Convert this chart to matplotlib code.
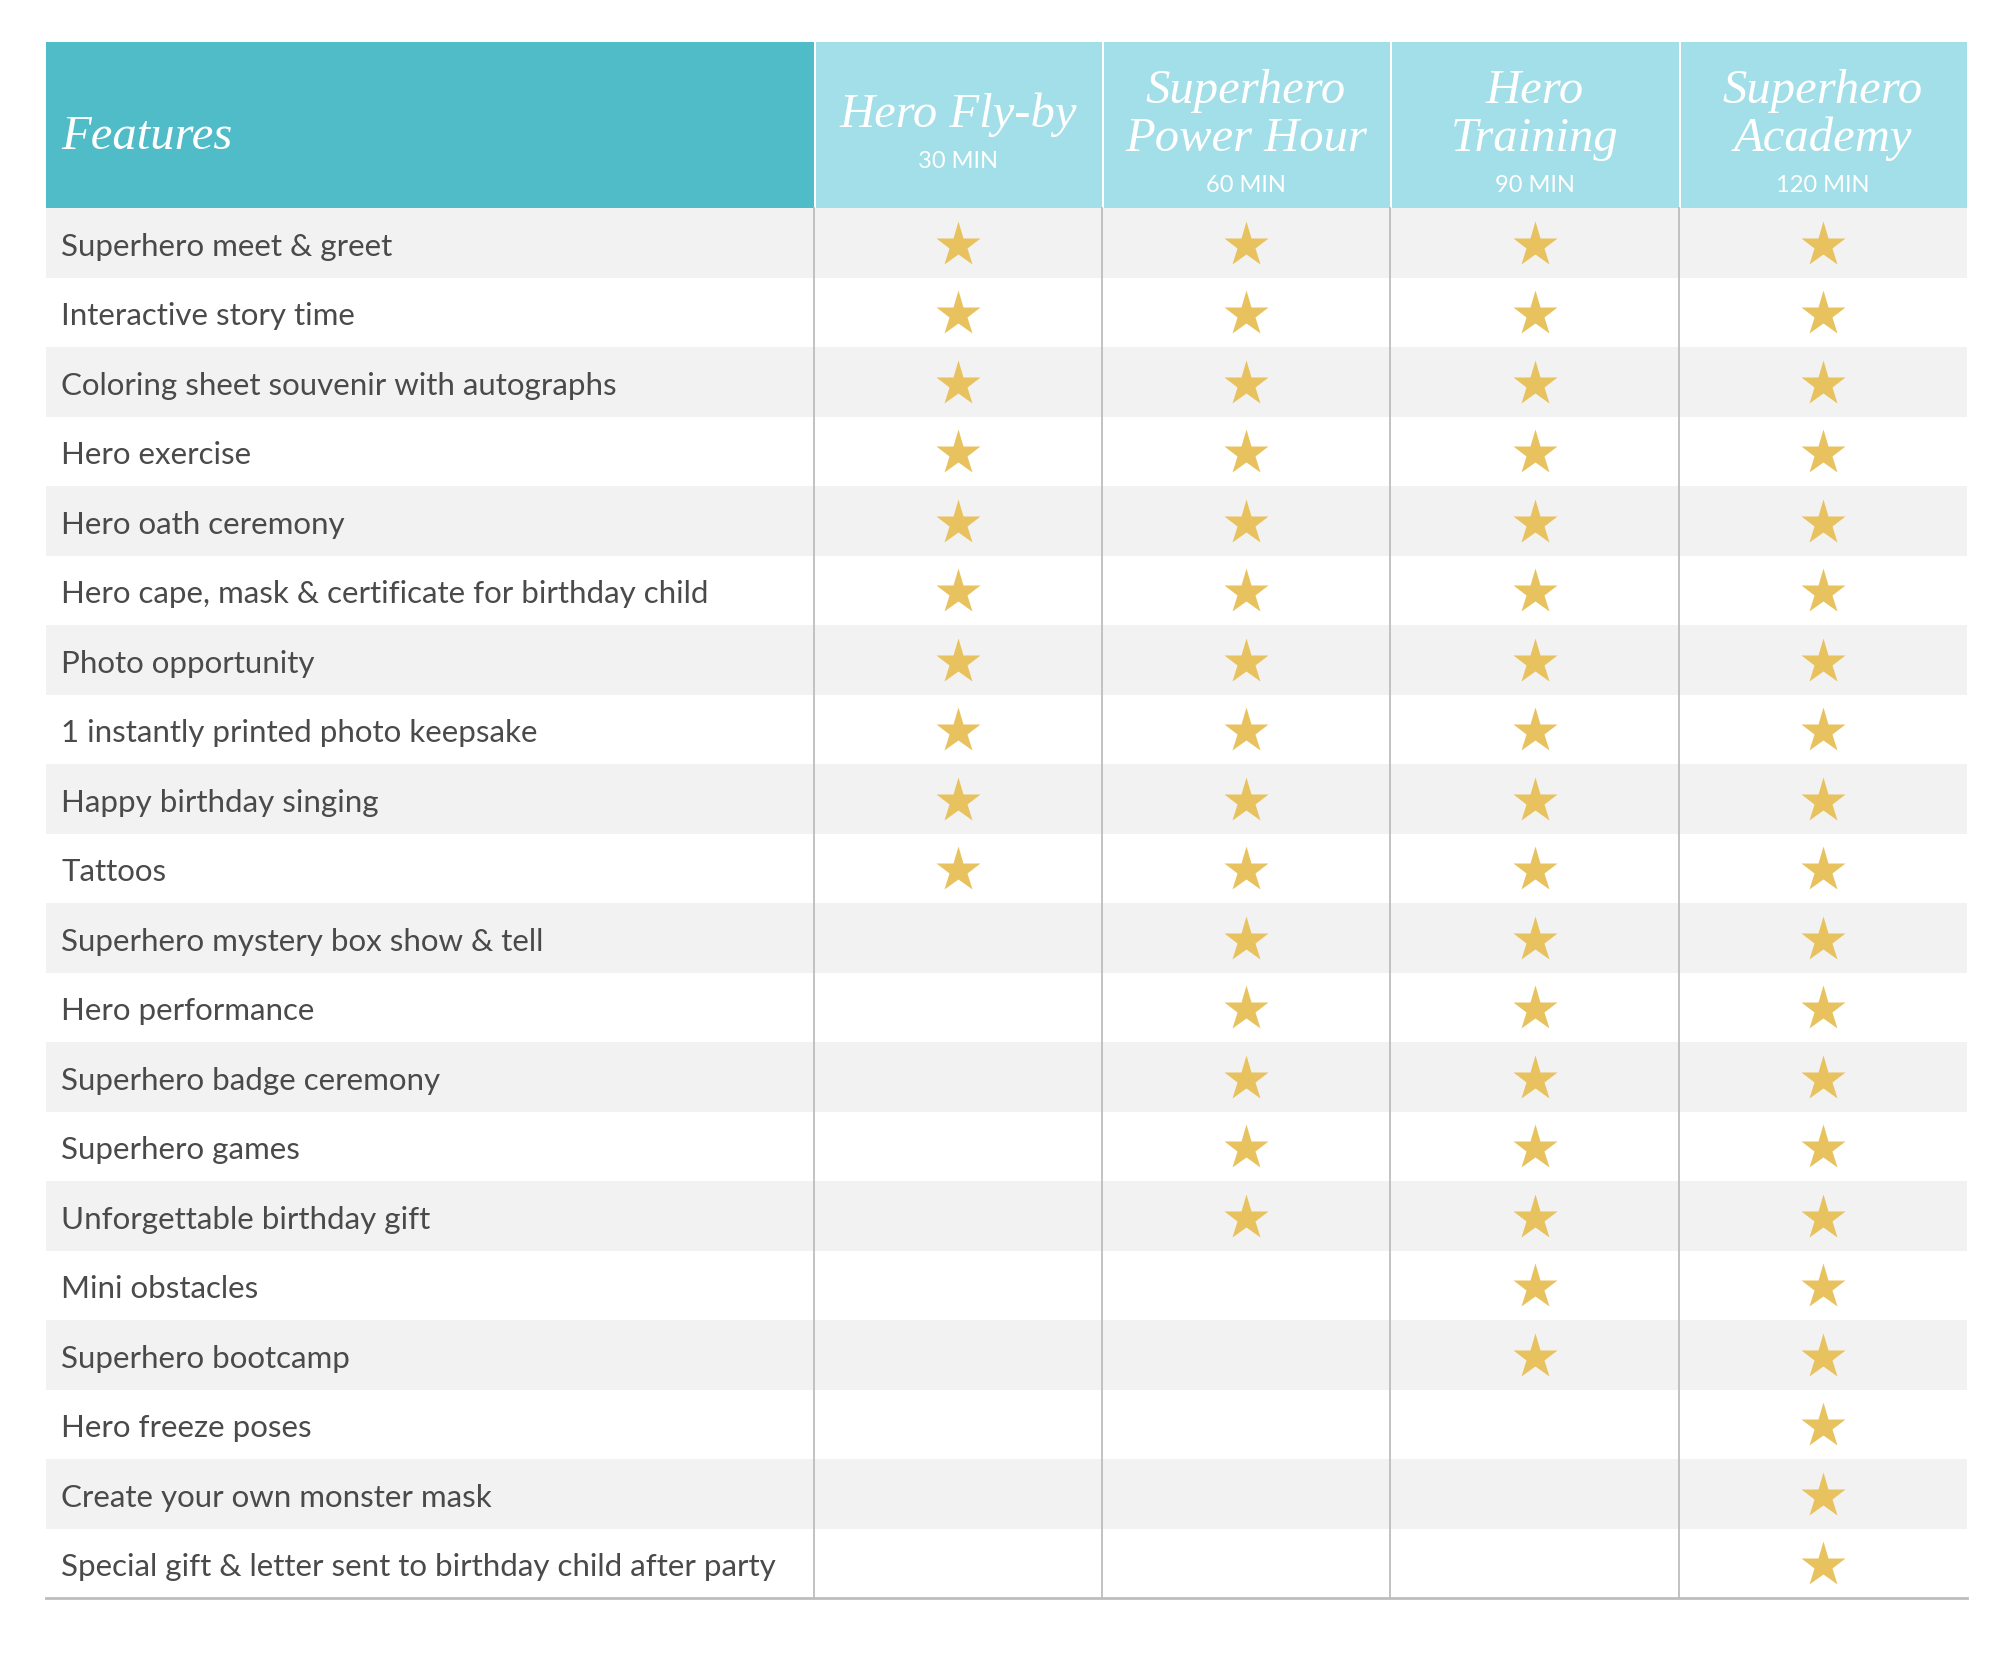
import numpy as np
import matplotlib.pyplot as plt
from matplotlib.patches import Rectangle

# table content
features = ['Superhero meet & greet', 'Interactive story time',
            'Coloring sheet souvenir with autographs', 'Hero exercise',
            'Hero oath ceremony', 'Hero cape, mask & certificate for birthday child',
            'Photo opportunity', '1 instantly printed photo keepsake',
            'Happy birthday singing', 'Tattoos',
            'Superhero mystery box show & tell', 'Hero performance',
            'Superhero badge ceremony', 'Superhero games',
            'Unforgettable birthday gift', 'Mini obstacles', 'Superhero bootcamp',
            'Hero freeze poses', 'Create your own monster mask',
            'Special gift & letter sent to birthday child after party']
plans = ['Hero Fly-by', 'Superhero\nPower Hour', 'Hero\nTraining', 'Superhero\nAcademy']
durations = ['30 MIN', '60 MIN', '90 MIN', '120 MIN']
# 1 = feature included in the plan
included = [
    [1, 1, 1, 1], [1, 1, 1, 1], [1, 1, 1, 1], [1, 1, 1, 1], [1, 1, 1, 1],
    [1, 1, 1, 1], [1, 1, 1, 1], [1, 1, 1, 1], [1, 1, 1, 1], [1, 1, 1, 1],
    [0, 1, 1, 1], [0, 1, 1, 1], [0, 1, 1, 1], [0, 1, 1, 1], [0, 1, 1, 1],
    [0, 0, 1, 1], [0, 0, 1, 1],
    [0, 0, 0, 1], [0, 0, 0, 1], [0, 0, 0, 1],
]

# layout in pixels
W, H = 2000, 1653
left, right = 46, 1967
top, head_bot, bottom = 42, 208, 1598
col_edges = [left, 814, 1102, 1390, 1679, right]
row_h = (bottom - head_bot) / len(features)

fig = plt.figure(figsize=(20, 16.53), dpi=100)
ax = fig.add_axes([0, 0, 1, 1])
ax.set_xlim(0, W)
ax.set_ylim(H, 0)
ax.axis('off')

# header
ax.add_patch(Rectangle((left, top), col_edges[1] - left, head_bot - top,
                       fc='#4FBCC8', ec='none'))
for j in range(len(plans)):
    x0, x1 = col_edges[j + 1], col_edges[j + 2]
    ax.add_patch(Rectangle((x0 + 1.5, top), x1 - x0 - 1.5, head_bot - top,
                           fc='#A2DFE8', ec='none'))
    xc = (x0 + x1) / 2
    if '\n' in plans[j]:
        ax.text(xc, 115, plans[j], ha='center', va='center', color='white',
                family='Liberation Serif', style='italic', fontsize=35, linespacing=1.12)
        ax.text(xc, 186, durations[j], ha='center', va='center', color='white',
                family='Lato', fontsize=17)
    else:
        ax.text(xc, 115, plans[j], ha='center', va='center', color='white',
                family='Liberation Serif', style='italic', fontsize=35)
        ax.text(xc, 161, durations[j], ha='center', va='center', color='white',
                family='Lato', fontsize=17)

ax.text(61, 137, 'Features', ha='left', va='center', color='white',
        family='Liberation Serif', style='italic', fontsize=35)

# rows
for i, feat in enumerate(features):
    y0 = head_bot + i * row_h
    if i % 2 == 0:
        ax.add_patch(Rectangle((left, y0), right - left, row_h, fc='#F2F2F2', ec='none'))
    ax.text(61, y0 + row_h / 2 + 4, feat, ha='left', va='center', color='#4A4A4A',
            family='Lato', fontsize=22.5)
    for j, inc in enumerate(included[i]):
        if inc:
            xc = (col_edges[j + 1] + col_edges[j + 2]) / 2
            ax.plot(xc, y0 + row_h / 2 + 2, marker='*', ms=34, color='#E8C25E', mec='none')

# grid lines
for x in col_edges[1:-1]:
    ax.plot([x, x], [head_bot, bottom], color='#BDBDBD', lw=1.3)
ax.plot([left, right], [bottom, bottom], color='#BDBDBD', lw=2)

fig.savefig('out.png', dpi=100)
